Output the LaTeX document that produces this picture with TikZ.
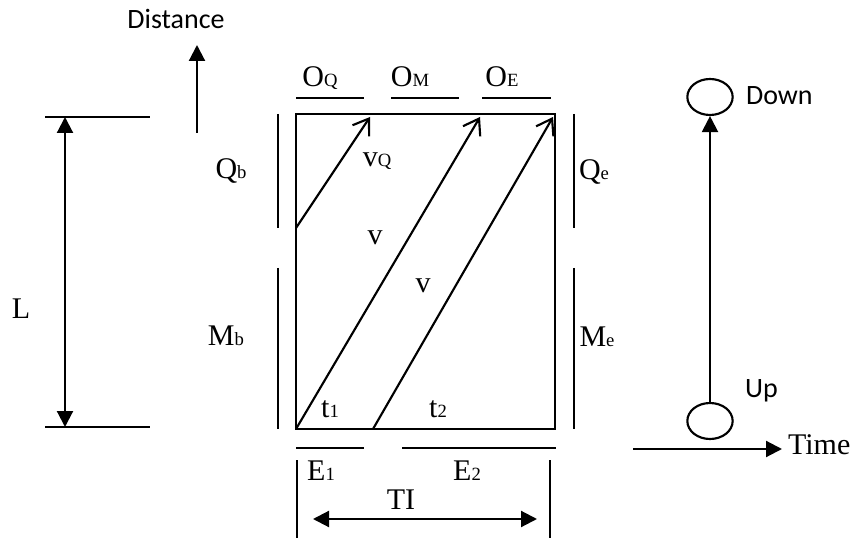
\documentclass[tikz,border=0pt]{standalone}
\usepackage{fontspec}
\setmainfont{Liberation Serif}
\newfontfamily\labelsans{Carlito}
\usetikzlibrary{arrows.meta, shapes.geometric}
\newcommand{\lowsub}[1]{{\fontsize{14}{14}\selectfont #1}}

\begin{document}
\begin{tikzpicture}[
    x=0.75pt, y=-0.75pt,
    line width=1.6pt,
    lbl/.style={inner sep=0pt, anchor=base, font=\fontsize{22.5}{24}\selectfont},
    sans/.style={inner sep=0pt, anchor=base west, font=\labelsans\fontsize{21}{24}\selectfont},
    bar/.style={line width=1.4pt},
    arrow/.style={-{Triangle[length=12pt, width=12pt]}},
    dblarrow/.style={{Triangle[length=12pt, width=12pt]}-{Triangle[length=12pt, width=12pt]}},
    openarrow/.style={-{Straight Barb[length=11pt, width=15pt]}},
    stopcircle/.style={draw, ellipse, inner sep=0pt, minimum width=34pt, minimum height=27pt},
]
    \useasboundingbox (0,0) rectangle (853,538);

    % Distance axis
    \node[sans, anchor=base] (dist) at (176,29) {Distance};
    \coordinate (dbot) at (197,133);
    \coordinate (dtip) at (197,45);
    \draw[arrow] (dbot) -- (dtip);

    % Block
    \coordinate (bl) at (296,429);
    \coordinate (tr) at (555,114);
    \draw (bl) rectangle (tr);

    % Trajectories
    \coordinate (q0) at (296,228);
    \coordinate (q1) at (370,117);
    \coordinate (a1) at (480,117);
    \coordinate (b0) at (373,429);
    \coordinate (b1) at (553,117);
    \draw[openarrow] (q0) -- (q1);
    \draw[openarrow] (bl) -- (a1);
    \draw[openarrow] (b0) -- (b1);

    \node[lbl] (vq) at (377,167) {v\lowsub{Q}};
    \node[lbl] (va) at (375,245) {v};
    \node[lbl] (vb) at (423,293) {v};
    \node[lbl] (ta) at (330,417) {t\lowsub{1}};
    \node[lbl] (tb) at (438,417) {t\lowsub{2}};

    % Top segments
    \draw[bar] (296,98) coordinate (oq0) -- (364,98) coordinate (oq1);
    \draw[bar] (391,98) coordinate (om0) -- (459,98) coordinate (om1);
    \draw[bar] (482,98) coordinate (oe0) -- (551,98) coordinate (oe1);
    \node[lbl] (oq) at (320,87) {O\lowsub{Q}};
    \node[lbl] (om) at (410,87) {O\lowsub{M}};
    \node[lbl] (oe) at (502,87) {O\lowsub{E}};

    % Side segments
    \draw[bar] (278,114) coordinate (qb0) -- (278,228) coordinate (qb1);
    \draw[bar] (278,268) coordinate (mb0) -- (278,429) coordinate (mb1);
    \draw[bar] (574,114) coordinate (qe0) -- (574,228) coordinate (qe1);
    \draw[bar] (574,268) coordinate (me0) -- (574,429) coordinate (me1);
    \node[lbl] (qb) at (231,179) {Q\lowsub{b}};
    \node[lbl] (mb) at (226,345) {M\lowsub{b}};
    \node[lbl] (qe) at (594,180) {Q\lowsub{e}};
    \node[lbl] (me) at (597,346) {M\lowsub{e}};

    % Bottom segments
    \draw[bar] (296,448) coordinate (e10) -- (364,448) coordinate (e11);
    \draw[bar] (402,448) coordinate (e20) -- (556,448) coordinate (e21);
    \node[lbl] (ea) at (321,480) {E\lowsub{1}};
    \node[lbl] (eb) at (467,480) {E\lowsub{2}};

    % Cycle length
    \draw[bar] (297,460) coordinate (ti0) -- (297,538) coordinate (ti1);
    \draw[bar] (550,460) coordinate (ti2) -- (550,538) coordinate (ti3);
    \coordinate (tia) at (313,519);
    \coordinate (tib) at (537,519);
    \draw[dblarrow] (tia) -- (tib);
    \node[lbl] (ti) at (401,509) {TI};

    % Length
    \draw[bar] (45,117) coordinate (la) -- (150,117) coordinate (lb);
    \draw[bar] (45,427) coordinate (lc) -- (150,427) coordinate (ld);
    \coordinate (ltop) at (65,117);
    \coordinate (lbot) at (65,427);
    \draw[dblarrow] (ltop) -- (lbot);
    \node[lbl] (len) at (21,319) {L};

    % Direction
    \node[stopcircle] (down) at (710,97) {};
    \node[stopcircle] (up) at (710,421) {};
    \draw[arrow] (up) -- (down);
    \node[sans] (downlbl) at (745,105) {Down};
    \node[sans] (uplbl) at (744,397) {Up};

    % Time axis
    \coordinate (t0) at (633,449);
    \coordinate (t1) at (782,449);
    \draw[arrow] (t0) -- (t1);
    \node[lbl, anchor=base west] (time) at (787,454) {Time};
\end{tikzpicture}
\end{document}
